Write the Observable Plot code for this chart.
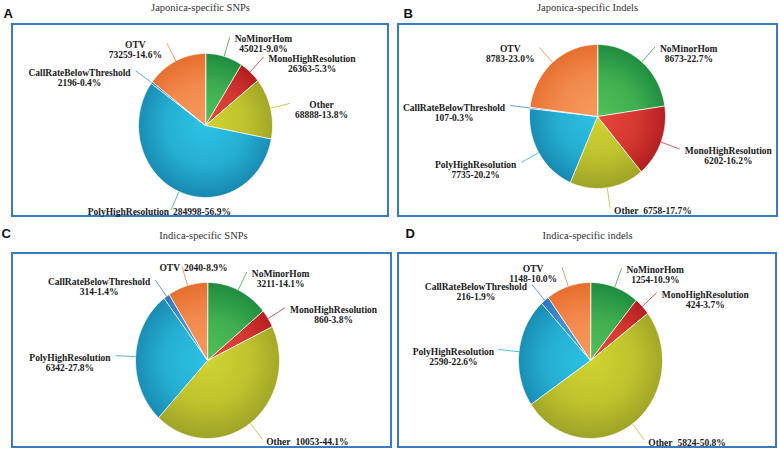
<!DOCTYPE html>
<html><head><meta charset="utf-8">
<script src="https://cdn.jsdelivr.net/npm/d3@7"></script>
<script src="https://cdn.jsdelivr.net/npm/@observablehq/plot@0.6"></script>
<style>body{margin:0;background:#fff;}</style>
</head><body><div id="chart"></div>
<script>
// ---- data ----
const categories = ["NoMinorHom","MonoHighResolution","Other","PolyHighResolution","CallRateBelowThreshold","OTV"];
const panelTitles = ["Japonica-specific SNPs","Japonica-specific Indels","Indica-specific SNPs","Indica-specific indels"];
const panelLetters = ["A","B","C","D"];
const countsJaponicaSNPs   = [45021, 26363, 68888, 284998, 2196, 73259];
const pctJaponicaSNPs      = [9.0, 5.3, 13.8, 56.9, 0.4, 14.6];
const countsJaponicaIndels = [8673, 6202, 6758, 7735, 107, 8783];
const pctJaponicaIndels    = [22.7, 16.2, 17.7, 20.2, 0.3, 23.0];
const countsIndicaSNPs     = [3211, 860, 10053, 6342, 314, 2040];
const pctIndicaSNPs        = [14.1, 3.8, 44.1, 27.8, 1.4, 8.9];
const countsIndicaIndels   = [1254, 424, 5824, 2590, 216, 1148];
const pctIndicaIndels      = [10.9, 3.7, 50.8, 22.6, 1.9, 10.0];

const series = [
  {counts: countsJaponicaSNPs, pct: pctJaponicaSNPs},
  {counts: countsJaponicaIndels, pct: pctJaponicaIndels},
  {counts: countsIndicaSNPs, pct: pctIndicaSNPs},
  {counts: countsIndicaIndels, pct: pctIndicaIndels}
];

// ---- styles / layout ----
const palette = [
  {light:"#52c25a", dark:"#1c8a3e", line:"#3aa84a"},
  {light:"#e8473b", dark:"#b01b1f", line:"#d03028"},
  {light:"#d2d431", dark:"#9ba126", line:"#bcc22a"},
  {light:"#2cc3e5", dark:"#1786ae", line:"#2aa8d0"},
  {light:"#4ea3e2", dark:"#2a76bf", line:"#3a8ad0"},
  {light:"#f99a5e", dark:"#e66d2c", line:"#f08040"}
];
const layout = [
  {cx:205, cy:125, rx:67, ry:72, frame:[12,24,388,216], title:[200,7], letter:[3,13], modes:{}},
  {cx:597, cy:116, rx:68, ry:72, frame:[398,24,777,216], title:[587,7], letter:[403,13], modes:{}},
  {cx:207, cy:360, rx:72, ry:78, frame:[12,253,391,447], title:[203,235], letter:[1,233], modes:{5:"split"}},
  {cx:590, cy:360, rx:72, ry:78, frame:[398,253,776,447], title:[587,235], letter:[405,233], modes:{}}
];
const W = 779, H = 449;
const ext = 20, gap = 5, lineH = 10;
const labelFont = "Liberation Serif", fs = 9.5;

const ctx = document.createElement("canvas").getContext("2d");
ctx.font = `bold ${fs}px "${labelFont}"`;
const tw = s => ctx.measureText(s).width;

const slices = [], leaders = [], labels = [];
series.forEach((d, p) => {
  const L = layout[p];
  const arcs = d3.pie().sort(null).value(v => v)(d.counts);
  arcs.forEach((a, i) => {
    const pts = [{x: L.cx, y: L.cy}];
    const n = Math.max(2, Math.ceil((a.endAngle - a.startAngle) / (Math.PI / 360)));
    for (let k = 0; k <= n; k++) {
      const t = a.startAngle + (a.endAngle - a.startAngle) * k / n;
      pts.push({x: L.cx + L.rx * Math.sin(t), y: L.cy - L.ry * Math.cos(t)});
    }
    slices.push({p, i, pts});
    const m = (a.startAngle + a.endAngle) / 2;
    const e0 = {x: L.cx + L.rx * Math.sin(m), y: L.cy - L.ry * Math.cos(m)};
    const e1 = {x: L.cx + (L.rx + ext) * Math.sin(m), y: L.cy - (L.ry + ext) * Math.cos(m)};
    leaders.push({x1: e0.x, y1: e0.y, x2: e1.x, y2: e1.y, i});
    const name = categories[i];
    const val = `${d.counts[i]}-${d.pct[i].toFixed(1)}%`;
    const deg = m * 180 / Math.PI;
    const mode = L.modes[i] || (deg > 135 && deg <= 180 ? "inline" : (deg > 180 && deg < 225 ? "split" : "block"));
    if (mode === "block") {
      const w = Math.max(tw(name), tw(val));
      const side = Math.sin(m) >= 0 ? 1 : -1;
      const x = e1.x + side * (gap + w / 2);
      labels.push({x, y: e1.y + 2, text: name, anchor: "middle"});
      labels.push({x, y: e1.y + 2 + lineH, text: val, anchor: "middle"});
    } else if (mode === "inline") {
      labels.push({x: e1.x + 4, y: e1.y + 3, text: name, anchor: "start"});
      labels.push({x: e1.x + 4 + tw(name) + 5, y: e1.y + 3, text: val, anchor: "start"});
    } else {
      labels.push({x: e1.x - 2, y: e1.y + 2, text: name, anchor: "end"});
      labels.push({x: e1.x + 2, y: e1.y + 2, text: val, anchor: "start"});
    }
  });
});

const frames = layout.map(L => ({x1: L.frame[0], y1: L.frame[1], x2: L.frame[2], y2: L.frame[3]}));
const titles = layout.map((L, p) => ({x: L.title[0], y: L.title[1], text: panelTitles[p]}));
const letters = layout.map((L, p) => ({x: L.letter[0], y: L.letter[1], text: panelLetters[p]}));

const labelStyle = {x: "x", y: "y", text: "text", fontFamily: labelFont, fontWeight: "bold", fontSize: fs, fill: "#1a1a1a"};

const svg = Plot.plot({
  width: W, height: H,
  margin: 0,
  x: {domain: [0, W], range: [0, W], axis: null},
  y: {domain: [0, H], range: [0, H], axis: null},
  style: {background: "#fff"},
  marks: [
    Plot.rect(frames, {x1: "x1", y1: "y1", x2: "x2", y2: "y2", fill: "none", stroke: "#3a7cc4", strokeWidth: 2}),
    ...slices.map(s => Plot.line(s.pts, {x: "x", y: "y", fill: `url(#g${s.p}_${s.i})`, stroke: "#fff", strokeWidth: 0.8, curve: "linear-closed"})),
    ...palette.map((c, i) => Plot.link(leaders.filter(l => l.i === i), {x1: "x1", y1: "y1", x2: "x2", y2: "y2", stroke: c.line, strokeWidth: 0.8})),
    ...["start", "middle", "end"].map(an => Plot.text(labels.filter(l => l.anchor === an), {...labelStyle, textAnchor: an})),
    Plot.text(titles, {x: "x", y: "y", text: "text", fontFamily: "Liberation Serif", fontSize: 10.5, fill: "#333"}),
    Plot.text(letters, {x: "x", y: "y", text: "text", textAnchor: "start", fontFamily: "Liberation Sans", fontWeight: "bold", fontSize: 13, fill: "#111"})
  ]
});

const defs = d3.select(svg).insert("defs", ":first-child");
layout.forEach((L, p) => palette.forEach((c, i) => {
  const g = defs.append("radialGradient").attr("id", `g${p}_${i}`)
    .attr("gradientUnits", "userSpaceOnUse")
    .attr("cx", L.cx).attr("cy", L.cy).attr("r", Math.max(L.rx, L.ry) * 1.02);
  g.append("stop").attr("offset", "0").attr("stop-color", c.light);
  g.append("stop").attr("offset", "0.55").attr("stop-color", d3.interpolateRgb(c.light, c.dark)(0.35));
  g.append("stop").attr("offset", "1").attr("stop-color", c.dark);
}));

document.getElementById("chart").appendChild(svg);
</script>
</body></html>
